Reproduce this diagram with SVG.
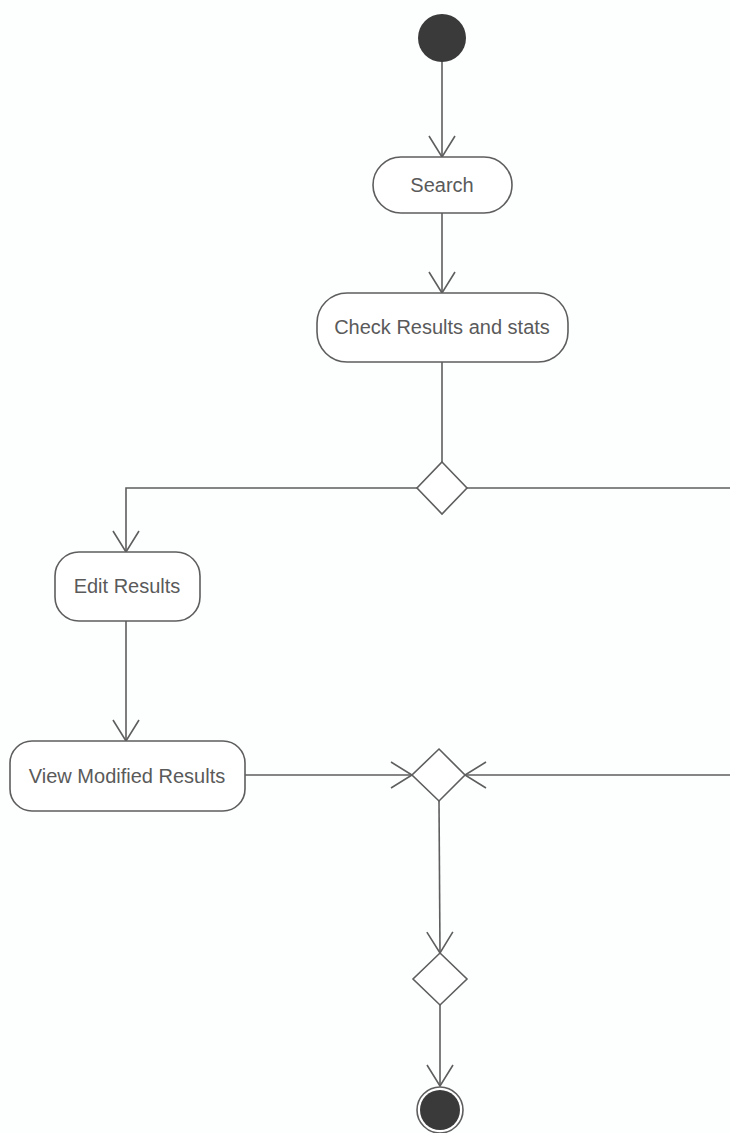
<svg xmlns="http://www.w3.org/2000/svg" width="730" height="1133" viewBox="0 0 730 1133">
<style>
.node{fill:#fff;stroke:#5e5e5e;stroke-width:1.6}
.lbl{font-family:"Liberation Sans",Arial,sans-serif;font-size:20px;fill:#5a5a5a;text-anchor:middle;dominant-baseline:central}
.edge{fill:none;stroke:#5e5e5e;stroke-width:1.6}
.dark{fill:#3a3a3a}
</style>
<defs>
<marker id="arr" markerUnits="userSpaceOnUse" markerWidth="26" markerHeight="28" refX="21" refY="13" orient="auto" overflow="visible">
<path d="M0,0 L21,13 L0,26" fill="none" stroke="#5e5e5e" stroke-width="1.6"/>
</marker>
</defs>
<rect width="730" height="1133" fill="#fdfefe"/>
<g id="connectors">
<path class="edge" d="M442,60 L442,157" marker-end="url(#arr)"/>
<path class="edge" d="M442,213 L442,293" marker-end="url(#arr)"/>
<path class="edge" d="M442,362 L442,462"/>
<path class="edge" d="M417,488 L126,488 L126,552" marker-end="url(#arr)"/>
<path class="edge" d="M467,488 L730,488"/>
<path class="edge" d="M126,621 L126,741" marker-end="url(#arr)"/>
<path class="edge" d="M245,775 L412,775" marker-end="url(#arr)"/>
<path class="edge" d="M730,775 L465,775" marker-end="url(#arr)"/>
<path class="edge" d="M439,801 L440,953" marker-end="url(#arr)"/>
<path class="edge" d="M440,1005 L440,1086" marker-end="url(#arr)"/>
</g>
<g id="start"><circle class="dark" cx="442" cy="38" r="24"/></g>
<g id="search"><rect class="node" x="373" y="157" width="139" height="56" rx="28"/><text class="lbl" x="442" y="185">Search</text></g>
<g id="check"><rect class="node" x="317" y="293" width="251" height="69" rx="30"/><text class="lbl" x="442" y="327">Check Results and stats</text></g>
<g id="decision1"><polygon class="node" points="442,462 467,488 442,514 417,488"/></g>
<g id="edit"><rect class="node" x="55" y="552" width="145" height="69" rx="24"/><text class="lbl" x="127" y="586">Edit Results</text></g>
<g id="view"><rect class="node" x="10" y="741" width="235" height="70" rx="22"/><text class="lbl" x="127" y="776">View Modified Results</text></g>
<g id="merge"><polygon class="node" points="439,749 465,775 439,801 412,775"/></g>
<g id="decision2"><polygon class="node" points="440,953 467,979 440,1005 413,979"/></g>
<g id="end"><circle cx="440" cy="1110" r="23" fill="#fff" stroke="#5e5e5e" stroke-width="1.6"/><circle class="dark" cx="440" cy="1110" r="20"/></g>
</svg>
